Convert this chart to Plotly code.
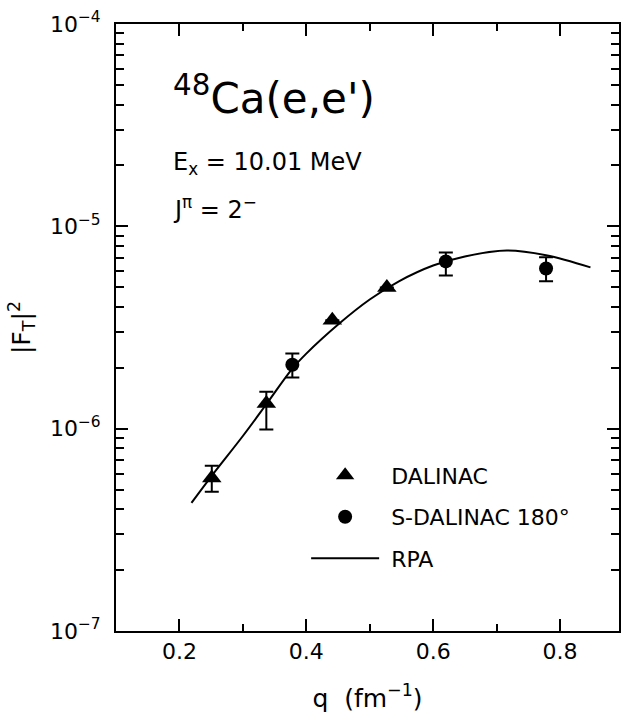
import plotly.graph_objects as go

# ---- data ----
q_dalinac = [0.251, 0.337, 0.441, 0.527]
F_dalinac = [5.7e-7, 1.33e-6, 3.43e-6, 4.99e-6]
F_dalinac_errp = [0.86e-7, 0.19e-6, None, None]
F_dalinac_errm = [0.82e-7, 0.34e-6, None, None]

q_sdalinac = [0.378, 0.620, 0.778]
F_sdalinac = [2.07e-6, 6.71e-6, 6.19e-6]
F_sdalinac_errp = [0.28e-6, 0.72e-6, 0.84e-6]
F_sdalinac_errm = [0.28e-6, 1.00e-6, 0.84e-6]

q_rpa = [0.219, 0.25, 0.30, 0.337, 0.378, 0.40, 0.452, 0.50, 0.546, 0.60, 0.65, 0.716, 0.778, 0.848]
F_rpa = [4.3e-7, 5.8e-7, 9.2e-7, 1.32e-6, 1.98e-6, 2.35e-6, 3.31e-6, 4.35e-6, 5.35e-6,
         6.4e-6, 7.1e-6, 7.6e-6, 7.2e-6, 6.27e-6]

x_ticks = [0.2, 0.4, 0.6, 0.8]
x_ticktext = ["0.2", "0.4", "0.6", "0.8"]
x_minor = [0.1, 0.3, 0.5, 0.7, 0.9]
y_ticks = [1e-7, 1e-6, 1e-5, 1e-4]
y_ticktext = ["10<sup>−7</sup>", "10<sup>−6</sup>", "10<sup>−5</sup>", "10<sup>−4</sup>"]
y_minor = [k * 10.0 ** e for e in (-7, -6, -5) for k in range(2, 10)]

FONT = "DejaVu Sans"

fig = go.Figure()
fig.add_trace(go.Scatter(
    x=q_rpa, y=F_rpa, mode="lines", name=" RPA", legendrank=3, legendgroup="c",
    line=dict(color="black", width=2, shape="spline"),
))
fig.add_trace(go.Scatter(
    x=q_dalinac, y=F_dalinac, mode="markers", name=" DALINAC", legendrank=1, legendgroup="a",
    marker=dict(symbol="triangle-up", size=17, color="black"),
    error_y=dict(type="data", symmetric=False, array=F_dalinac_errp, arrayminus=F_dalinac_errm,
                 color="black", thickness=2, width=7),
))
fig.add_trace(go.Scatter(
    x=q_sdalinac, y=F_sdalinac, mode="markers", name=" S-DALINAC 180°", legendrank=2, legendgroup="b",
    marker=dict(symbol="circle", size=14, color="black"),
    error_y=dict(type="data", symmetric=False, array=F_sdalinac_errp, arrayminus=F_sdalinac_errm,
                 color="black", thickness=2, width=7),
))

fig.update_layout(
    width=622, height=720,
    margin=dict(l=116, r=1, t=24, b=89),
    paper_bgcolor="white", plot_bgcolor="white",
    font=dict(family=FONT, color="black", size=22),
    showlegend=True,
    legend=dict(x=0.378, y=0.291, xanchor="left", yanchor="top", bgcolor="rgba(0,0,0,0)",
                font=dict(size=22), itemwidth=68, tracegroupgap=10),
    xaxis=dict(
        range=[0.1, 0.893], showline=True, linecolor="black", linewidth=2, mirror="ticks",
        ticks="inside", ticklen=12, tickwidth=1.5, tickcolor="black",
        tickmode="array", tickvals=x_ticks, ticktext=x_ticktext,
        minor=dict(ticks="inside", ticklen=7, tickwidth=1.5, tickcolor="black",
                   tickmode="array", tickvals=x_minor, showgrid=False),
        showgrid=False, zeroline=False, tickfont=dict(size=22),
        title=dict(text="q  (fm<sup>−1</sup>)", font=dict(size=25), standoff=26),
    ),
    yaxis=dict(
        type="log", range=[-7, -4], showline=True, linecolor="black", linewidth=2, mirror="ticks",
        ticks="inside", ticklen=12, tickwidth=1.5, tickcolor="black",
        tickmode="array", tickvals=y_ticks, ticktext=y_ticktext,
        minor=dict(ticks="inside", ticklen=8, tickwidth=1.5, tickcolor="black",
                   tickmode="array", tickvals=y_minor, showgrid=False),
        showgrid=False, zeroline=False, tickfont=dict(size=22), ticklabelstandoff=9,
        title=dict(text="|F<sub>T</sub>|<sup>2</sup>", font=dict(size=25), standoff=12),
    ),
)

fig.add_annotation(xref="paper", yref="paper", x=0.11, y=0.882, xanchor="left", yanchor="middle",
                   text="<sup>48</sup>Ca(e,e')", showarrow=False, font=dict(size=42))
fig.add_annotation(xref="paper", yref="paper", x=0.11, y=0.771, xanchor="left", yanchor="middle",
                   text="E<sub>x</sub> = 10.01 MeV", showarrow=False, font=dict(size=24))
fig.add_annotation(xref="paper", yref="paper", x=0.11, y=0.697, xanchor="left", yanchor="middle",
                   text="J<sup>π</sup> = 2<sup>−</sup>", showarrow=False, font=dict(size=24))

fig.write_html("out.html")
